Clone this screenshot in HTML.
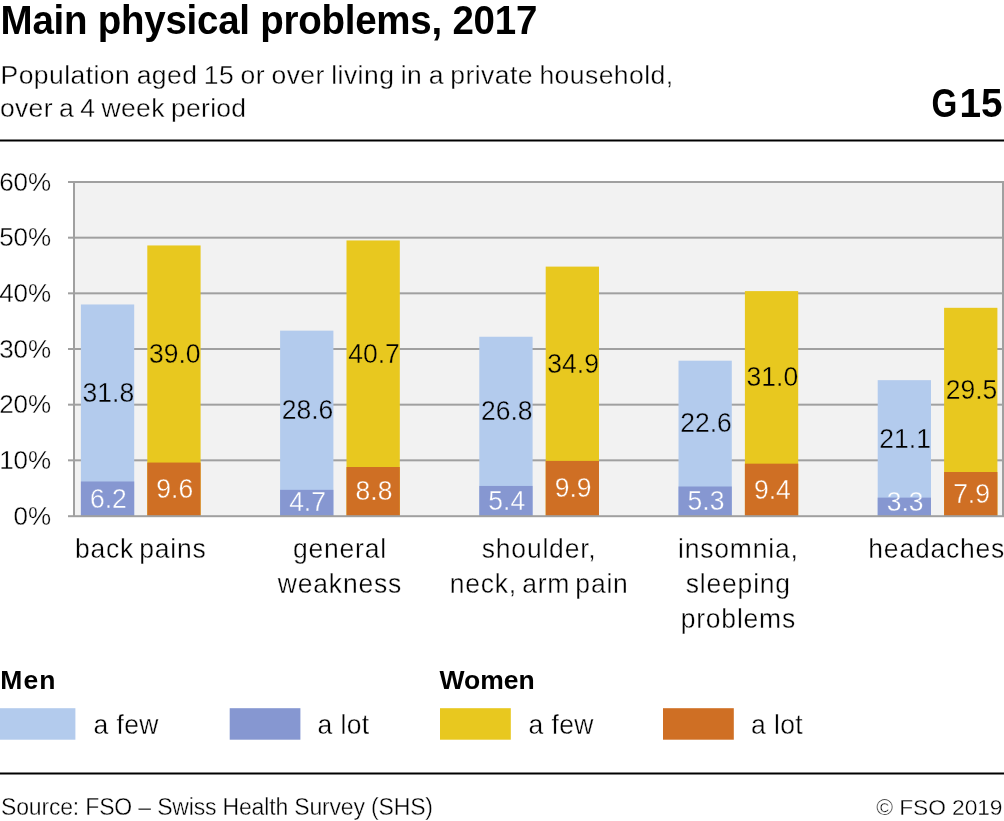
<!DOCTYPE html><html><head><meta charset="utf-8"><title>Main physical problems, 2017</title><style>
html,body{margin:0;padding:0;background:#fff;overflow:hidden;}
svg{display:block;will-change:transform;}
text{font-family:"Liberation Sans",Arial,sans-serif;}
.l{stroke-width:0.35px;}
.w{stroke:#fff;}
.v{font-size:26.5px;text-anchor:middle;fill:#000;letter-spacing:0px;}
.vw{font-size:26.5px;text-anchor:middle;fill:#fff;letter-spacing:0px;}
.c{font-size:26.5px;text-anchor:middle;fill:#000;letter-spacing:0.8px;word-spacing:-3px;}
.ax{font-size:26px;text-anchor:end;fill:#000;}
</style></head><body>
<svg width="1004" height="821" viewBox="0 0 1004 821">
<rect x="0" y="0" width="1004" height="821" fill="#fff"/>
<text transform="translate(0.6,34) scale(1,1.072)" font-size="38.5" font-weight="bold" fill="#000" letter-spacing="-0.25">Main physical problems, 2017</text>
<text class="l w" x="0.5" y="84" font-size="26.5" letter-spacing="0.45" word-spacing="-1.4" fill="#000">Population aged 15 or over living in a private household,</text>
<text class="l w" x="0" y="117" font-size="26.5" letter-spacing="0.3" word-spacing="-1.4" fill="#000">over a 4 week period</text>
<text transform="translate(931.6,117) scale(0.83,1.025)" font-size="40" font-weight="bold" fill="#000">G</text>
<text transform="translate(1002.6,117) scale(0.97,1.025)" font-size="40" font-weight="bold" fill="#000" text-anchor="end">15</text>
<rect x="0" y="139.5" width="1004" height="2" fill="#000"/>
<rect x="75" y="182" width="927" height="334" fill="#f2f2f2"/>
<rect x="68" y="459.33" width="936" height="2" fill="#a0a0a0"/>
<rect x="68" y="403.67" width="936" height="2" fill="#a0a0a0"/>
<rect x="68" y="348.00" width="936" height="2" fill="#a0a0a0"/>
<rect x="68" y="292.33" width="936" height="2" fill="#a0a0a0"/>
<rect x="68" y="236.67" width="936" height="2" fill="#a0a0a0"/>
<rect x="68" y="181.00" width="936" height="2" fill="#a0a0a0"/>
<rect x="80.90" y="304.47" width="53.30" height="211.53" fill="#b3cbed"/>
<rect x="80.90" y="481.49" width="53.30" height="34.51" fill="#8697d1"/>
<rect x="147.30" y="245.46" width="53.30" height="270.54" fill="#e8c81f"/>
<rect x="147.30" y="462.56" width="53.30" height="53.44" fill="#cf6f24"/>
<rect x="280.10" y="330.63" width="53.30" height="185.37" fill="#b3cbed"/>
<rect x="280.10" y="489.84" width="53.30" height="26.16" fill="#8697d1"/>
<rect x="346.50" y="240.45" width="53.30" height="275.55" fill="#e8c81f"/>
<rect x="346.50" y="467.01" width="53.30" height="48.99" fill="#cf6f24"/>
<rect x="479.30" y="336.75" width="53.30" height="179.25" fill="#b3cbed"/>
<rect x="479.30" y="485.94" width="53.30" height="30.06" fill="#8697d1"/>
<rect x="545.70" y="266.61" width="53.30" height="249.39" fill="#e8c81f"/>
<rect x="545.70" y="460.89" width="53.30" height="55.11" fill="#cf6f24"/>
<rect x="678.50" y="360.69" width="53.30" height="155.31" fill="#b3cbed"/>
<rect x="678.50" y="486.50" width="53.30" height="29.50" fill="#8697d1"/>
<rect x="744.90" y="291.11" width="53.30" height="224.89" fill="#e8c81f"/>
<rect x="744.90" y="463.67" width="53.30" height="52.33" fill="#cf6f24"/>
<rect x="877.70" y="380.17" width="53.30" height="135.83" fill="#b3cbed"/>
<rect x="877.70" y="497.63" width="53.30" height="18.37" fill="#8697d1"/>
<rect x="944.10" y="307.81" width="53.30" height="208.19" fill="#e8c81f"/>
<rect x="944.10" y="472.02" width="53.30" height="43.98" fill="#cf6f24"/>
<rect x="68" y="515.20" width="936" height="2" fill="#a0a0a0"/>
<rect x="73" y="181" width="2" height="336.00" fill="#a0a0a0"/>
<rect x="1002" y="181" width="2" height="336.00" fill="#a0a0a0"/>
<text class="vw l" transform="translate(108.35,507.54) scale(1,1.035)" stroke="#8697d1">6.2</text>
<text class="v l" transform="translate(108.35,401.78) scale(1,1.035)" stroke="#b3cbed">31.8</text>
<text class="vw l" transform="translate(174.75,498.08) scale(1,1.035)" stroke="#cf6f24">9.6</text>
<text class="v l" transform="translate(174.75,362.81) scale(1,1.035)" stroke="#e8c81f">39.0</text>
<text class="vw l" transform="translate(307.55,511.20) scale(1,1.035)" stroke="#8697d1">4.7</text>
<text class="v l" transform="translate(307.55,419.03) scale(1,1.035)" stroke="#b3cbed">28.6</text>
<text class="vw l" transform="translate(373.95,500.31) scale(1,1.035)" stroke="#cf6f24">8.8</text>
<text class="v l" transform="translate(373.95,362.53) scale(1,1.035)" stroke="#e8c81f">40.7</text>
<text class="vw l" transform="translate(506.75,509.77) scale(1,1.035)" stroke="#8697d1">5.4</text>
<text class="v l" transform="translate(506.75,420.15) scale(1,1.035)" stroke="#b3cbed">26.8</text>
<text class="vw l" transform="translate(573.15,497.25) scale(1,1.035)" stroke="#cf6f24">9.9</text>
<text class="v l" transform="translate(573.15,372.55) scale(1,1.035)" stroke="#e8c81f">34.9</text>
<text class="vw l" transform="translate(705.95,510.05) scale(1,1.035)" stroke="#8697d1">5.3</text>
<text class="v l" transform="translate(705.95,432.39) scale(1,1.035)" stroke="#b3cbed">22.6</text>
<text class="vw l" transform="translate(772.35,498.64) scale(1,1.035)" stroke="#cf6f24">9.4</text>
<text class="v l" transform="translate(772.35,386.19) scale(1,1.035)" stroke="#e8c81f">31.0</text>
<clipPath id="ca1"><rect x="877.70" y="0" width="53.30" height="497.63"/></clipPath>
<clipPath id="cb1"><rect x="877.70" y="497.63" width="53.30" height="323.37"/></clipPath>
<g clip-path="url(#ca1)"><text class="vw l" transform="translate(905.15,511.20) scale(1,1.035)" stroke="#b3cbed">3.3</text></g>
<g clip-path="url(#cb1)"><text class="vw l" transform="translate(905.15,511.20) scale(1,1.035)" stroke="#8697d1">3.3</text></g>
<text class="v l" transform="translate(905.15,447.70) scale(1,1.035)" stroke="#b3cbed">21.1</text>
<text class="vw l" transform="translate(971.55,502.81) scale(1,1.035)" stroke="#cf6f24">7.9</text>
<text class="v l" transform="translate(971.55,398.71) scale(1,1.035)" stroke="#e8c81f">29.5</text>
<text class="ax l w" x="51.2" y="524.80">0%</text>
<text class="ax l w" x="51.2" y="469.13">10%</text>
<text class="ax l w" x="51.2" y="413.47">20%</text>
<text class="ax l w" x="51.2" y="357.80">30%</text>
<text class="ax l w" x="51.2" y="302.13">40%</text>
<text class="ax l w" x="51.2" y="246.47">50%</text>
<text class="ax l w" x="51.2" y="190.80">60%</text>
<text class="c l w" transform="translate(140.75,558.00) scale(1,1.06)">back pains</text>
<text class="c l w" transform="translate(339.95,558.00) scale(1,1.06)">general</text>
<text class="c l w" transform="translate(339.95,593.00) scale(1,1.06)">weakness</text>
<text class="c l w" transform="translate(539.15,558.00) scale(1,1.06)">shoulder,</text>
<text class="c l w" transform="translate(539.15,593.00) scale(1,1.06)">neck, arm pain</text>
<text class="c l w" transform="translate(738.35,558.00) scale(1,1.06)">insomnia,</text>
<text class="c l w" transform="translate(738.35,593.00) scale(1,1.06)">sleeping</text>
<text class="c l w" transform="translate(738.35,628.00) scale(1,1.06)">problems</text>
<text class="c l w" transform="translate(936.75,558.00) scale(1,1.06)" letter-spacing="0.6">headaches</text>
<text x="0.3" y="689.2" font-size="26.5" font-weight="bold" letter-spacing="1.1" fill="#000">Men</text>
<text x="439.5" y="689" font-size="26.5" font-weight="bold" fill="#000">Women</text>
<rect x="0" y="708.2" width="75.4" height="31.5" fill="#b3cbed"/>
<rect x="229.7" y="708.2" width="70.7" height="31.5" fill="#8697d1"/>
<rect x="440" y="708.2" width="70.8" height="31.5" fill="#e8c81f"/>
<rect x="663" y="708.2" width="70.8" height="31.5" fill="#cf6f24"/>
<text class="l w" transform="translate(93.5,733.7) scale(1,1.06)" font-size="26.5" letter-spacing="0.4" fill="#000">a few</text>
<text class="l w" transform="translate(317.5,733.7) scale(1,1.06)" font-size="26.5" letter-spacing="0.4" fill="#000">a lot</text>
<text class="l w" transform="translate(528.5,733.7) scale(1,1.06)" font-size="26.5" letter-spacing="0.4" fill="#000">a few</text>
<text class="l w" transform="translate(751.0,733.7) scale(1,1.06)" font-size="26.5" letter-spacing="0.4" fill="#000">a lot</text>
<rect x="0" y="772.5" width="1004" height="2" fill="#000"/>
<text class="l w" x="1" y="815" font-size="23" letter-spacing="-0.17" fill="#000">Source: FSO – Swiss Health Survey (SHS)</text>
<text class="l w" x="1002.4" y="815" font-size="22.8" letter-spacing="-0.1" fill="#000" text-anchor="end">© FSO 2019</text>
</svg></body></html>
